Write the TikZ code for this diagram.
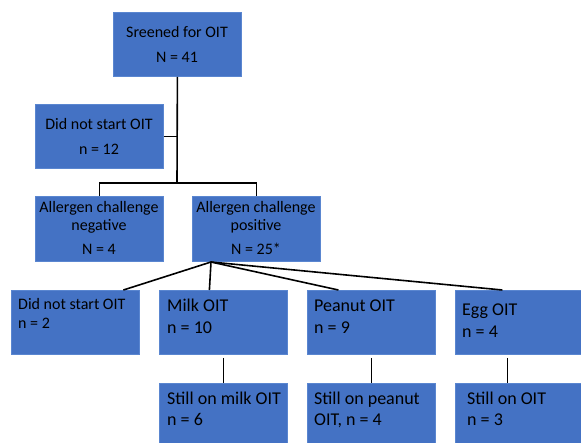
\documentclass[tikz,border=0pt]{standalone}
\usepackage{fontspec}
\setmainfont{Carlito}
\definecolor{boxblue}{HTML}{4472C4}
\definecolor{boxedge}{HTML}{5A86D0}
\begin{document}
\begin{tikzpicture}[x=1pt,y=-1pt,
  box/.style={fill=boxblue, draw=boxedge, line width=0.8pt, minimum width=128pt, minimum height=64pt, inner sep=0pt, anchor=north west},
  txt/.style={inner sep=0pt, text=black, font=\fontsize{16}{18}\selectfont},
  btxt/.style={txt, font=\fontsize{18}{20}\selectfont},
  ctxt/.style={txt, anchor=north, align=center},
  ltxt/.style={txt, anchor=north west, align=left},
  lbtxt/.style={btxt, anchor=north west, align=left},
  conn/.style={line width=1.6pt, black}]
\useasboundingbox (0,0) rectangle (581,442);
\clip (0,0) rectangle (581,442);
% boxes
\node[box] (scr) at (113,12) {};
\node[box] (dns1) at (35,104) {};
\node[box, minimum height=65pt] (neg) at (35,196) {};
\node[box, minimum height=65pt] (pos) at (192,196) {};
\node[box] (dns2) at (11,290) {};
\node[box] (milk) at (159,290) {};
\node[box] (pea) at (307,290) {};
\node[box] (egg) at (455,290) {};
\node[box] (smilk) at (159,383) {};
\node[box] (spea) at (307,383) {};
\node[box] (segg) at (455,383) {};
% texts
\node[ctxt] (scrT) at (177,24.4) {\strut Sreened for OIT\\[7pt]\strut N = 41};
\node[ctxt] (dns1T) at (99,116.4) {\strut Did not start OIT\\[7pt]\strut n = 12};
\node[ctxt] (negT) at (99,199.4) {\strut Allergen challenge\\\strut negative\\[6pt]\strut N = 4};
\node[ctxt] (posT) at (256,199.4) {\strut Allergen challenge\\\strut positive\\[6pt]\strut N = 25*};
\node[ltxt] (dns2T) at (18,296.4) {\strut Did not start OIT\\[1pt]\strut n = 2};
\node[lbtxt] (milkT) at (167,297) {\strut Milk OIT\\[2pt]\strut n = 10};
\node[lbtxt] (peaT) at (314,297) {\strut Peanut OIT\\[2pt]\strut n = 9};
\node[lbtxt] (eggT) at (462,301) {\strut Egg OIT\\[2pt]\strut n = 4};
\node[lbtxt] (smilkT) at (167,390) {\strut Still on milk OIT\\[1pt]\strut n = 6};
\node[lbtxt] (speaT) at (314,390) {\strut Still on peanut\\[1pt]\strut OIT, n = 4};
\node[lbtxt] (seggT) at (467,390) {\strut Still on OIT\\[1pt]\strut n = 3};
% connectors
\coordinate (j) at (177,183);
\coordinate (f) at (211,262);
\draw[conn] (scr.south) -- (j);
\draw[conn] (dns1.east) -- (dns1.east -| j);
\draw[conn] (neg.north) -- (neg.north |- j) -- (pos.north |- j) -- (pos.north);
\draw[conn] (f) -- ([xshift=48pt]dns2.north);
\draw[conn] (f) -- ([xshift=-14pt]milk.north);
\draw[conn] (f) -- ([xshift=-33pt]pea.north);
\draw[conn] (f) -- ([xshift=-17pt]egg.north);
\draw[conn] ([yshift=-3pt]milk.south) -- (smilk.north);
\draw[conn] ([yshift=-3pt]pea.south) -- (spea.north);
\draw[conn] ([xshift=-12pt,yshift=-3pt]egg.south) -- ([xshift=-12pt]segg.north);
\end{tikzpicture}
\end{document}
